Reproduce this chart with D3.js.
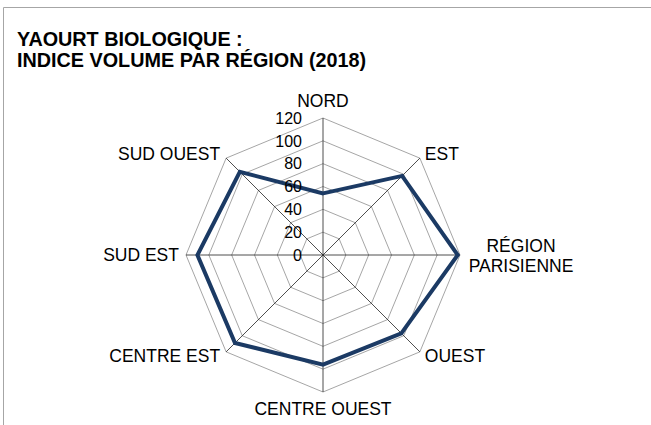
<!DOCTYPE html>
<html>
<head>
<meta charset="utf-8">
<script src="https://cdn.jsdelivr.net/npm/d3@7"></script>
<style>
  html, body { margin: 0; padding: 0; background: #fff; }
  svg { display: block; }
  text { font-family: "Liberation Sans", Arial, sans-serif; fill: #000; }
</style>
</head>
<body>
<svg id="chart" width="651" height="425"></svg>
<script>
// Regions, clockwise from the top
const regions = ["NORD", "EST", "RÉGION\nPARISIENNE", "OUEST", "CENTRE OUEST", "CENTRE EST", "SUD EST", "SUD OUEST"];
// Volume index per region, 2018
const indexValues = [54, 98, 118, 97, 96, 109, 110, 103];
// Radial axis ticks
const tickValues = [0, 20, 40, 60, 80, 100, 120];
const titleLines = ["YAOURT BIOLOGIQUE :", "INDICE VOLUME PAR RÉGION (2018)"];

const svg = d3.select("#chart");
const cx = 323, cy = 255, R = 137;

// Frame
svg.append("path")
  .attr("d", "M3.5,425 V7.5 H651")
  .attr("fill", "none")
  .attr("stroke", "#a6a6a6")
  .attr("stroke-width", 1);

// Title
svg.append("g").selectAll("text")
  .data(titleLines)
  .join("text")
  .attr("x", 17)
  .attr("y", (d, i) => 46 + i * 21)
  .attr("font-size", "19.8px")
  .attr("font-weight", "bold")
  .text(d => d);

const r = d3.scaleLinear().domain([0, 120]).range([0, R]);
const angle = d3.scalePoint().domain(d3.range(regions.length)).range([0, 2 * Math.PI * (regions.length - 1) / regions.length]);

const g = svg.append("g").attr("transform", `translate(${cx},${cy})`);

const ring = d3.lineRadial()
  .angle((d, i) => angle(i))
  .radius(d => r(d))
  .curve(d3.curveLinearClosed);

// Grid polygons
g.append("g").selectAll("path")
  .data(tickValues.slice(1))
  .join("path")
  .attr("d", t => ring(regions.map(() => t)))
  .attr("fill", "none")
  .attr("stroke", "#a6a6a6")
  .attr("stroke-width", 1);

// Spokes
g.append("g").selectAll("line")
  .data(regions)
  .join("line")
  .attr("x1", 0).attr("y1", 0)
  .attr("x2", (d, i) => r(120) * Math.sin(angle(i)))
  .attr("y2", (d, i) => -r(120) * Math.cos(angle(i)))
  .attr("stroke", "#222")
  .attr("stroke-width", 0.8);

// Series
g.append("path")
  .datum(indexValues)
  .attr("d", ring)
  .attr("fill", "none")
  .attr("stroke", "#1b3a64")
  .attr("stroke-width", 4)
  .attr("stroke-linejoin", "miter");

// Radial tick labels
g.append("g").selectAll("text")
  .data(tickValues)
  .join("text")
  .attr("x", -21)
  .attr("y", t => -r(t))
  .attr("dy", "0.36em")
  .attr("text-anchor", "end")
  .attr("font-size", "16px")
  .text(t => t);

// Category labels placed just outside the outer ring
const labelOffsets = [
  { dx: 0, dy: -11, anchor: "middle" },
  { dx: 5, dy: 2, anchor: "start" },
  { dx: 61, dy: -3, anchor: "middle" },
  { dx: 5, dy: 10, anchor: "start" },
  { dx: 0, dy: 23, anchor: "middle" },
  { dx: -6, dy: 10, anchor: "end" },
  { dx: -7, dy: 6, anchor: "end" },
  { dx: -6, dy: 2, anchor: "end" }
];

const labels = g.append("g").selectAll("text")
  .data(regions)
  .join("text")
  .attr("font-size", "17.5px")
  .attr("text-anchor", (d, i) => labelOffsets[i].anchor)
  .attr("transform", (d, i) => {
    const x = r(120) * Math.sin(angle(i)) + labelOffsets[i].dx;
    const y = -r(120) * Math.cos(angle(i)) + labelOffsets[i].dy;
    return `translate(${x},${y})`;
  });

labels.selectAll("tspan")
  .data(d => d.split("\n"))
  .join("tspan")
  .attr("x", 0)
  .attr("y", (d, i) => i * 19.5)
  .text(d => d);
</script>
</body>
</html>
